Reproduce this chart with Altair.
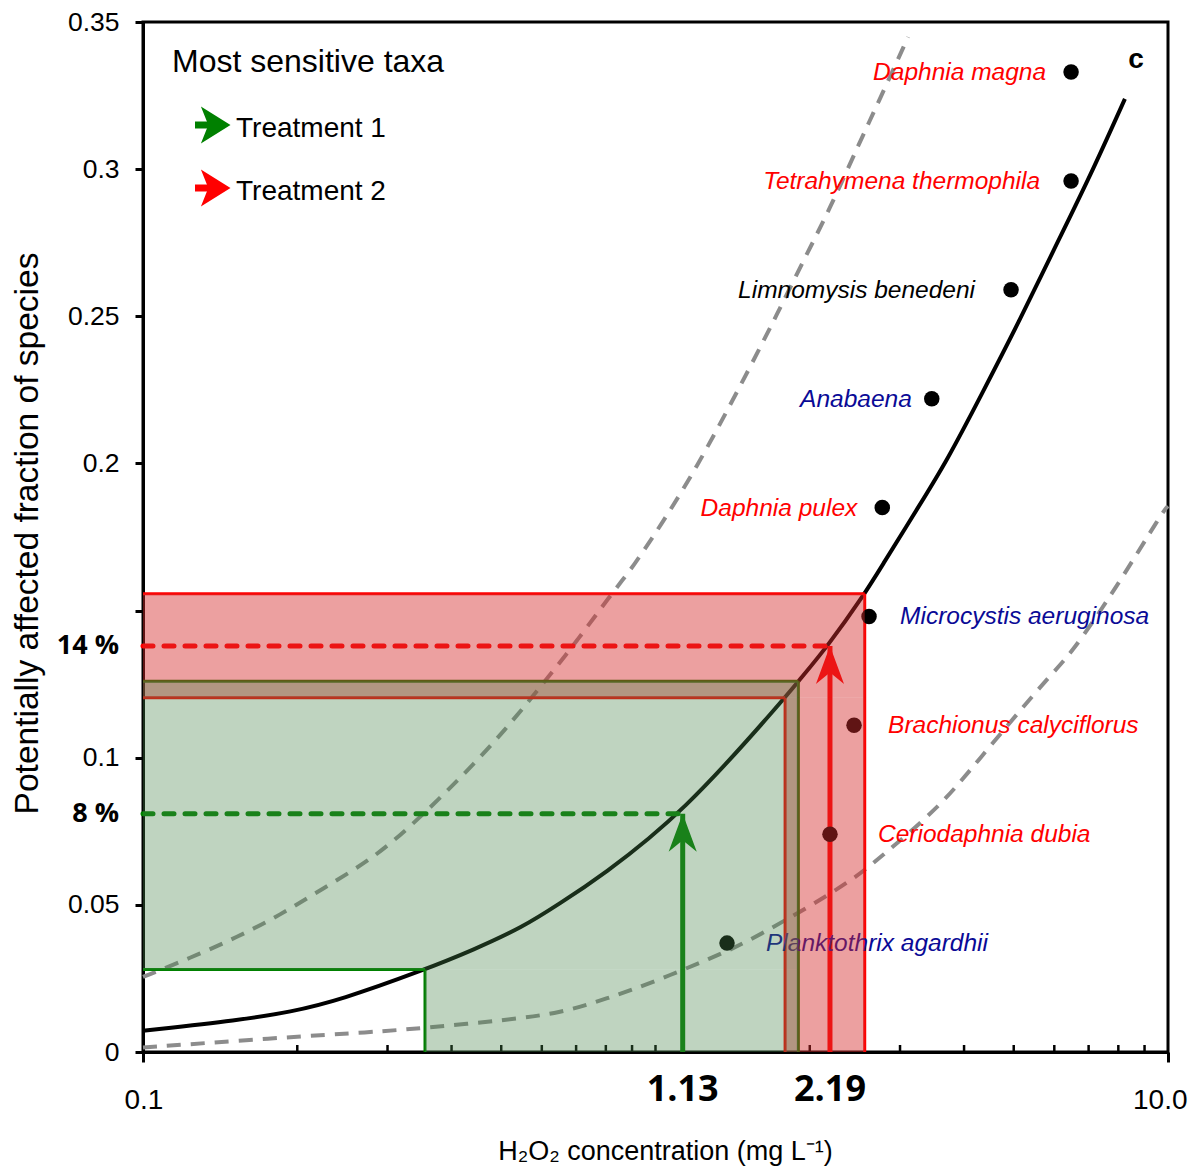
import altair as alt
import pandas as pd

# ---------------- data ----------------
# species sensitivity distribution (solid black curve)
ssd_x = [0.1, 0.155, 0.194, 0.242, 0.355, 0.44, 0.551, 0.651, 0.78, 1.13, 1.79, 1.9,
         2.17, 2.56, 2.75, 3.28, 3.7, 4.3, 5.17, 5.97, 7.04, 8.24]
ssd_y = [0.0072, 0.0109, 0.0136, 0.0176, 0.028, 0.0346, 0.0424, 0.0505, 0.0595, 0.081,
         0.1204, 0.126, 0.138, 0.1557, 0.1645, 0.186, 0.2008, 0.2225, 0.2496, 0.2722,
         0.2974, 0.3239]

# upper confidence bound (grey dashed, left)
upper_x = [0.1, 0.1235, 0.1526, 0.1851, 0.2245, 0.2773, 0.3319, 0.4345, 0.5132, 0.6032,
           0.7029, 0.815, 0.904, 1.034, 1.184, 1.336, 1.529, 1.726, 1.94, 2.19, 2.484,
           2.742, 3.11]
upper_y = [0.0255, 0.0319, 0.039, 0.0465, 0.0556, 0.0651, 0.0763, 0.0963, 0.1102, 0.1251,
           0.1397, 0.155, 0.1648, 0.1801, 0.1967, 0.2133, 0.2327, 0.2506, 0.2686, 0.2866,
           0.3079, 0.3239, 0.3449]

# lower confidence bound (grey dashed, right)
lower_x = [0.1, 0.1793, 0.281, 0.352, 0.5132, 0.651, 0.8, 1.0, 1.295, 1.481, 2.002, 2.429,
           2.705, 3.59, 4.165, 5.886, 6.44, 7.95, 9.78, 10.0]
lower_y = [0.0015, 0.0047, 0.0068, 0.0081, 0.0109, 0.0132, 0.018, 0.024, 0.0322, 0.0366,
           0.0495, 0.0587, 0.0651, 0.0834, 0.097, 0.1282, 0.1347, 0.1581, 0.1838, 0.1855]

# most sensitive taxa
species = ["Daphnia magna", "Tetrahymena thermophila", "Limnomysis benedeni", "Anabaena",
           "Daphnia pulex", "Microcystis aeruginosa", "Brachionus calyciflorus",
           "Ceriodaphnia dubia", "Planktothrix agardhii"]
species_x = [6.47, 6.47, 4.94, 3.46, 2.77, 2.61, 2.44, 2.19, 1.379]
species_y = [0.333, 0.296, 0.259, 0.222, 0.185, 0.148, 0.111, 0.074, 0.037]

# treatments: mean concentration / PAF, and ranges (boxes)
treat_names = ["Treatment 1", "Treatment 2"]
treat_x = [1.13, 2.19]
treat_y = [0.081, 0.138]
treat_conc_labels = ["1.13", "2.19"]
treat_pct_labels = ["8 %", "14 %"]
# box: outer corner (x_hi, y_hi) and inner corner (x_lo, y_lo)
treat_x_lo = [0.355, 1.79]
treat_x_hi = [1.9, 2.56]
treat_y_lo = [0.028, 0.1204]
treat_y_hi = [0.126, 0.1557]

x_min, x_max = 0.1, 10.0
y_min, y_max = 0.0, 0.35
x_minor_ticks = [0.2, 0.3, 0.4, 0.5, 0.6, 0.7, 0.8, 0.9, 1, 2, 3, 4, 5, 6, 7, 8, 9]
y_ticks = [0, 0.05, 0.1, 0.15, 0.2, 0.25, 0.3, 0.35]

# ---------------- styles ----------------
ARIAL = "Liberation Sans, Arial, sans-serif"
BOLD = "Open Sans, Noto Sans, DejaVu Sans, sans-serif"
RED = "#ff0000"
GREEN = "#008000"
NAVY = "#0a0a96"
label_colors = [RED, RED, "black", NAVY, RED, NAVY, RED, RED, NAVY]
label_align = ["right"] * 5 + ["left"] * 4
label_dx = [-25, -31, -36, -20, -25, 31, 34, 48, 39]
treat_colors = [GREEN, RED]
fill_colors = ["#48844b", "#d52c2c"]
fill_opac = [0.35, 0.45]
ARROW_UP = "M0,-1 L0.74,1 L0,0.4 L-0.74,1 Z"
ARROW_RIGHT = "M1,0 L-0.6,-1 L-0.2,0 L-0.6,1 Z"

W, H = 1025, 1030

xscale = alt.Scale(type="log", domain=[x_min, x_max], nice=False)
yscale = alt.Scale(domain=[y_min, y_max], nice=False)

xaxis = alt.Axis(values=[x_min, x_max],
                 labelExpr="datum.value < 1 ? '0.1' : '10.0'",
                 tickSize=10, tickWidth=3, tickColor="black",
                 domainColor="black", domainWidth=3,
                 labelFont=ARIAL, labelFontSize=28, labelColor="black", labelPadding=24,
                 labelFlush=True, labelFlushOffset=19,
                 grid=False,
                 title="H₂O₂ concentration (mg L⁻¹)", titleFont=ARIAL, titleFontSize=27,
                 titleFontWeight="normal", titleColor="black",
                 titleX=522, titleY=99, titleBaseline="middle")
yaxis = alt.Axis(values=y_ticks,
                 labelExpr="abs(datum.value-0.15) < 0.001 ? '' : toString(round(datum.value*100)/100)",
                 tickSize=8, tickWidth=3, tickColor="black",
                 domainColor="black", domainWidth=3,
                 labelFont=ARIAL, labelFontSize=26.5, labelColor="black", labelPadding=16,
                 grid=False,
                 title="Potentially affected fraction of species", titleFont=ARIAL,
                 titleFontSize=33.5, titleFontWeight="normal", titleColor="black",
                 titleAngle=-90, titleX=-116, titleY=511, titleBaseline="middle")


def X(f="x"):
    return alt.X(f"{f}:Q", scale=xscale, axis=xaxis)


def Y(f="y"):
    return alt.Y(f"{f}:Q", scale=yscale, axis=yaxis)


layers = []

# minor ticks pointing inward
ticks_df = pd.DataFrame({"x": x_minor_ticks})
layers.append(alt.Chart(ticks_df).mark_rule(color="black", strokeWidth=2.5).encode(
    x=X(), y=alt.value(H), y2=alt.value(H - 7)))

# confidence curves
for cx, cy in [(upper_x, upper_y), (lower_x, lower_y)]:
    df = pd.DataFrame({"x": cx, "y": cy})
    layers.append(alt.Chart(df).mark_line(color="#8c8c8c", strokeWidth=4, strokeDash=[14, 10],
                                          interpolate="basis").encode(x=X(), y=Y()))

# SSD curve
ssd_df = pd.DataFrame({"x": ssd_x, "y": ssd_y})
layers.append(alt.Chart(ssd_df).mark_line(color="black", strokeWidth=4,
                                          interpolate="basis").encode(x=X(), y=Y()))

# treatment box outlines, dashed PAF lines, arrows
for i in [1, 0]:
    seg = pd.DataFrame({
        "x": [x_min, treat_x_hi[i], x_min, treat_x_lo[i]],
        "x2": [treat_x_hi[i], treat_x_hi[i], treat_x_lo[i], treat_x_lo[i]],
        "y": [treat_y_hi[i], y_min, treat_y_lo[i], y_min],
        "y2": [treat_y_hi[i], treat_y_hi[i], treat_y_lo[i], treat_y_lo[i]],
    })
    layers.append(alt.Chart(seg).mark_rule(color=treat_colors[i], strokeWidth=3).encode(
        x=X(), x2="x2:Q", y=Y(), y2="y2:Q"))

for i in range(2):
    dash = pd.DataFrame({"x": [x_min], "x2": [treat_x[i]], "y": [treat_y[i]], "y2": [treat_y[i]]})
    layers.append(alt.Chart(dash).mark_rule(color=treat_colors[i], strokeWidth=5,
                                            strokeDash=[10, 11], strokeCap="round").encode(
        x=X(), x2="x2:Q", y=Y(), y2="y2:Q"))
    shaft = pd.DataFrame({"x": [treat_x[i]], "y": [y_min], "y2": [treat_y[i]]})
    layers.append(alt.Chart(shaft).mark_rule(color=treat_colors[i], strokeWidth=5).encode(
        x=X(), y=Y(), y2="y2:Q"))
    head = pd.DataFrame({"x": [treat_x[i]], "y": [treat_y[i]]})
    layers.append(alt.Chart(head).mark_point(shape=ARROW_UP, filled=True, size=1444, yOffset=19,
                                             color=treat_colors[i], opacity=1, strokeWidth=0).encode(
        x=X(), y=Y()))

# species points and labels
sp_df = pd.DataFrame({"name": species, "x": species_x, "y": species_y})
layers.append(alt.Chart(sp_df).mark_circle(size=240, color="black", opacity=1).encode(x=X(), y=Y()))
for i in range(len(species)):
    layers.append(alt.Chart(sp_df.iloc[[i]]).mark_text(
        align=label_align[i], dx=label_dx[i], dy=8, baseline="alphabetic",
        font=ARIAL, fontSize=24.5, fontStyle="italic", color=label_colors[i]).encode(
        x=X(), y=Y(), text="name:N"))

# translucent treatment range boxes (red below, green above)
for i in [1, 0]:
    rects = pd.DataFrame({
        "x": [x_min, treat_x_lo[i]],
        "x2": [treat_x_hi[i], treat_x_hi[i]],
        "y": [treat_y_lo[i], y_min],
        "y2": [treat_y_hi[i], treat_y_lo[i]],
    })
    layers.append(alt.Chart(rects).mark_rect(color=fill_colors[i], opacity=fill_opac[i],
                                             strokeWidth=0).encode(
        x=X(), x2="x2:Q", y=Y(), y2="y2:Q"))

# percentage and concentration annotations
tr_df = pd.DataFrame({"x": treat_x, "y": treat_y, "pct": treat_pct_labels,
                      "conc": treat_conc_labels})
layers.append(alt.Chart(tr_df).mark_text(align="right", baseline="middle", font=BOLD,
                                         fontSize=27, fontWeight="bold", color="black").encode(
    x=alt.value(-24), y=Y(), text="pct:N"))
layers.append(alt.Chart(tr_df).mark_text(align="center", baseline="middle", font=BOLD,
                                         fontSize=36, fontWeight="bold", color="black").encode(
    x=X(), y=alt.value(H + 38), text="conc:N"))

# legend block
title_df = pd.DataFrame({"t": ["Most sensitive taxa"]})
layers.append(alt.Chart(title_df).mark_text(align="left", baseline="alphabetic", font=ARIAL,
                                            fontSize=32, color="black").encode(
    x=alt.value(29), y=alt.value(50), text="t:N"))
for i in range(2):
    row_y = 103 + 63 * i
    ldf = pd.DataFrame({"t": [treat_names[i]]})
    layers.append(alt.Chart(ldf).mark_rule(color=treat_colors[i], strokeWidth=7).encode(
        x=alt.value(52), x2=alt.value(76), y=alt.value(row_y)))
    layers.append(alt.Chart(ldf).mark_point(shape=ARROW_RIGHT, filled=True, size=1369,
                                            color=treat_colors[i], opacity=1, strokeWidth=0).encode(
        x=alt.value(69), y=alt.value(row_y)))
    layers.append(alt.Chart(ldf).mark_text(align="left", baseline="alphabetic", font=ARIAL,
                                           fontSize=28, color="black").encode(
        x=alt.value(93), y=alt.value(row_y + 12), text="t:N"))

panel_df = pd.DataFrame({"t": ["c"]})
layers.append(alt.Chart(panel_df).mark_text(align="center", baseline="alphabetic", font=ARIAL,
                                            fontSize=28, fontWeight="bold", color="black").encode(
    x=alt.value(993), y=alt.value(46), text="t:N"))

chart = alt.layer(*layers).properties(
    width=W, height=H,
    padding={"left": 135, "top": 14, "right": 20, "bottom": 116},
    autosize=alt.AutoSizeParams(type="none"),
).configure_view(stroke="black", strokeWidth=3)

chart.save("out.html", embed_options={"renderer": "svg", "actions": False})
